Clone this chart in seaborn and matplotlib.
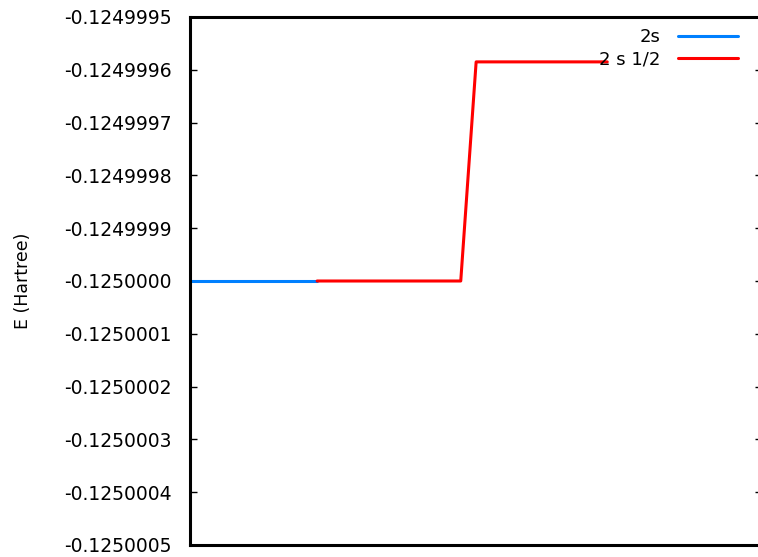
import numpy as np
import pandas as pd
import seaborn as sns
import matplotlib.pyplot as plt
from matplotlib.ticker import FixedLocator, FormatStrFormatter

# data (x is arbitrary, no x labels shown)
x_2s = [0.0, 22.3]
e_2s = [-0.1250000, -0.1250000]

x_2s12 = [22.3, 47.5, 50.2, 73.2]
e_2s12 = [-0.1250000, -0.1250000, -0.124999585, -0.124999585]

ytick_vals = [-0.1250005, -0.1250004, -0.1250003, -0.1250002, -0.1250001,
              -0.1250000, -0.1249999, -0.1249998, -0.1249997, -0.1249996,
              -0.1249995]

sns.set_theme(style="white")
plt.rcParams['font.family'] = ['DejaVu Sans']
plt.rcParams['axes.edgecolor'] = 'black'
plt.rcParams['text.color'] = 'black'
plt.rcParams['axes.labelcolor'] = 'black'
plt.rcParams['ytick.color'] = 'black'

fig = plt.figure(figsize=(7.58, 5.57), dpi=100)
ax = fig.add_axes([190 / 758, 1 - 545 / 557, 572 / 758, 528 / 557])

sns.lineplot(x=x_2s, y=e_2s, color='#0080ff', lw=2.2, label='2s', ax=ax)
sns.lineplot(x=x_2s12, y=e_2s12, color='#ff0000', lw=2.2, label='2 s 1/2',
             ax=ax, sort=False)

ax.set_xlim(0, 100 * 572 / 570)
ax.set_ylim(ytick_vals[0], ytick_vals[-1])
ax.set_xticks([])
ax.yaxis.set_major_locator(FixedLocator(ytick_vals))
ax.yaxis.set_major_formatter(FormatStrFormatter('%.7f'))
ax.tick_params(axis='y', direction='in', length=5, width=1, left=True,
               right=True, labelsize=13.5, pad=13)
ax.set_ylabel('E (Hartree)', fontsize=12.5, labelpad=23)

for s in ax.spines.values():
    s.set_linewidth(2.2)
    s.set_color('black')

ax.legend(loc='upper right', bbox_to_anchor=(548 / 572, (545 - 28) / 528),
          frameon=False, markerfirst=False, fontsize=13,
          handlelength=3.3, handletextpad=1.0, labelspacing=0.25,
          borderpad=0, borderaxespad=0)

plt.savefig('out.png', dpi=100)
